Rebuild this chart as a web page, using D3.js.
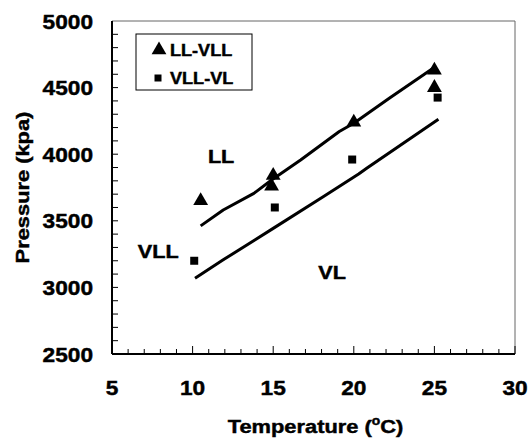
<!DOCTYPE html>
<html>
<head>
<meta charset="utf-8">
<script src="https://cdn.jsdelivr.net/npm/d3@7"></script>
<style>
  body { margin: 0; background: #fff; }
  text { font-family: "Liberation Sans", Arial, sans-serif; font-weight: bold; fill: #000; stroke: #000; stroke-width: 0.45px; }
</style>
</head>
<body>
<script>
// measured points
var llvllT = [10.5, 15.0, 14.9, 20.0, 25.0, 25.0];
var llvllP = [3650, 3840, 3760, 4240, 4630, 4500];
var vllvlT = [10.1, 15.1, 19.9, 25.2];
var vllvlP = [3200, 3600, 3960, 4425];

// calculated boundaries
var upperT = [10.5, 11.9, 13.8, 14.9, 16.7, 19.1, 20.0, 22.2, 25.1];
var upperP = [3462, 3581, 3706, 3806, 3956, 4170, 4232, 4420, 4660];
var lowerT = [10.15, 11.9, 15.0, 18.1, 20.3, 20.8, 25.25];
var lowerP = [3069, 3207, 3443, 3681, 3851, 3894, 4262];

var xTicks = [5, 10, 15, 20, 25, 30];
var yTicks = [2500, 3000, 3500, 4000, 4500, 5000];

var margin = { top: 21, right: 14, bottom: 84, left: 112 },
  W = 529, H = 438,
  width = W - margin.left - margin.right,
  height = H - margin.top - margin.bottom;

var svg = d3.select("body").append("svg").attr("width", W).attr("height", H);
var g = svg.append("g").attr("transform", `translate(${margin.left},${margin.top})`);

var x = d3.scaleLinear().domain([5, 30]).range([0, width]);
var y = d3.scaleLinear().domain([2500, 5000]).range([height, 0]);

// frame top/right
g.append("path")
  .attr("d", `M0,0H${width}V${height}`)
  .attr("fill", "none").attr("stroke", "#666").attr("stroke-width", 1);

// minor ticks
g.selectAll(".xminor").data(d3.range(6, 30).filter(function (d) { return d % 5 != 0; }))
  .enter().append("line")
  .attr("x1", function (d) { return x(d); }).attr("x2", function (d) { return x(d); })
  .attr("y1", height).attr("y2", height - 5)
  .attr("stroke", "#000").attr("stroke-width", 1);
g.selectAll(".xmajor").data(xTicks)
  .enter().append("line")
  .attr("x1", function (d) { return x(d); }).attr("x2", function (d) { return x(d); })
  .attr("y1", height).attr("y2", height - 8)
  .attr("stroke", "#000").attr("stroke-width", 1);
g.selectAll(".yminor").data(d3.range(2600, 5000, 100))
  .enter().append("line")
  .attr("x1", 0).attr("x2", 6)
  .attr("y1", function (d) { return y(d); }).attr("y2", function (d) { return y(d); })
  .attr("stroke", "#000").attr("stroke-width", 1);

// axes lines
g.append("line").attr("x1", 0).attr("x2", 0).attr("y1", 0).attr("y2", height)
  .attr("stroke", "#000").attr("stroke-width", 2);
g.append("line").attr("x1", 0).attr("x2", width).attr("y1", height).attr("y2", height)
  .attr("stroke", "#000").attr("stroke-width", 2);

// tick labels (the original font is a bit wide, so stretch it)
g.selectAll(".xl").data(xTicks).enter().append("text")
  .attr("transform", function (d) { return `translate(${x(d)},${height + 41}) scale(1.08,1)`; })
  .attr("text-anchor", "middle")
  .style("font-size", "21px")
  .text(function (d) { return d; });
g.selectAll(".yl").data(yTicks).enter().append("text")
  .attr("transform", function (d) { return `translate(-19,${y(d) + 7.5}) scale(1.08,1)`; })
  .attr("text-anchor", "end")
  .style("font-size", "21px")
  .text(function (d) { return d; });

// axis titles
var xt = svg.append("text")
  .attr("transform", `translate(${margin.left + width / 2 + 2},433) scale(1.15,1)`)
  .attr("text-anchor", "middle")
  .style("font-size", "19px");
xt.append("tspan").text("Temperature (");
xt.append("tspan").attr("dy", -8).style("font-size", "12px").text("o");
xt.append("tspan").attr("dy", 8).text("C)");

svg.append("text")
  .attr("transform", `translate(29,${margin.top + height / 2}) rotate(-90) scale(1.15,1)`)
  .attr("text-anchor", "middle")
  .style("font-size", "19px")
  .text("Pressure (kpa)");

// boundary lines
var line = d3.line()
  .x(function (d) { return x(d[0]); })
  .y(function (d) { return y(d[1]); });

g.append("path").datum(d3.zip(upperT, upperP))
  .attr("d", line).attr("fill", "none").attr("stroke", "#000").attr("stroke-width", 3)
  .attr("stroke-linejoin", "round");
g.append("path").datum(d3.zip(lowerT, lowerP))
  .attr("d", line).attr("fill", "none").attr("stroke", "#000").attr("stroke-width", 3)
  .attr("stroke-linejoin", "round");

// markers
var tri = d3.symbol().type(d3.symbolTriangle).size(95);
var sq = d3.symbol().type(d3.symbolSquare).size(64);

g.selectAll(".tri").data(d3.zip(llvllT, llvllP)).enter().append("path")
  .attr("d", tri)
  .attr("transform", function (d) { return `translate(${x(d[0])},${y(d[1])})`; })
  .attr("fill", "#000");
g.selectAll(".sq").data(d3.zip(vllvlT, vllvlP)).enter().append("path")
  .attr("d", sq)
  .attr("transform", function (d) { return `translate(${x(d[0])},${y(d[1])})`; })
  .attr("fill", "#000");

// region labels
var regions = [["LL", 10.95, 3980], ["VLL", 6.6, 3268], ["VL", 17.8, 3110]];
g.selectAll(".reg").data(regions).enter().append("text")
  .attr("transform", function (d) { return `translate(${x(d[1])},${y(d[2]) + 6.5}) scale(1.2,1)`; })
  .style("font-size", "18px")
  .text(function (d) { return d[0]; });

// legend
var lg = svg.append("g").attr("transform", "translate(136,34)");
lg.append("rect").attr("width", 116).attr("height", 56)
  .attr("fill", "#fff").attr("stroke", "#000").attr("stroke-width", 1);
lg.append("path").attr("d", tri).attr("transform", "translate(23,16)");
lg.append("path").attr("d", d3.symbol().type(d3.symbolSquare).size(49)).attr("transform", "translate(22,44)");
lg.append("text").attr("transform", "translate(34,22) scale(1.13,1)").style("font-size", "16px").text("LL-VLL");
lg.append("text").attr("transform", "translate(34,50) scale(1.13,1)").style("font-size", "16px").text("VLL-VL");
</script>
</body>
</html>
